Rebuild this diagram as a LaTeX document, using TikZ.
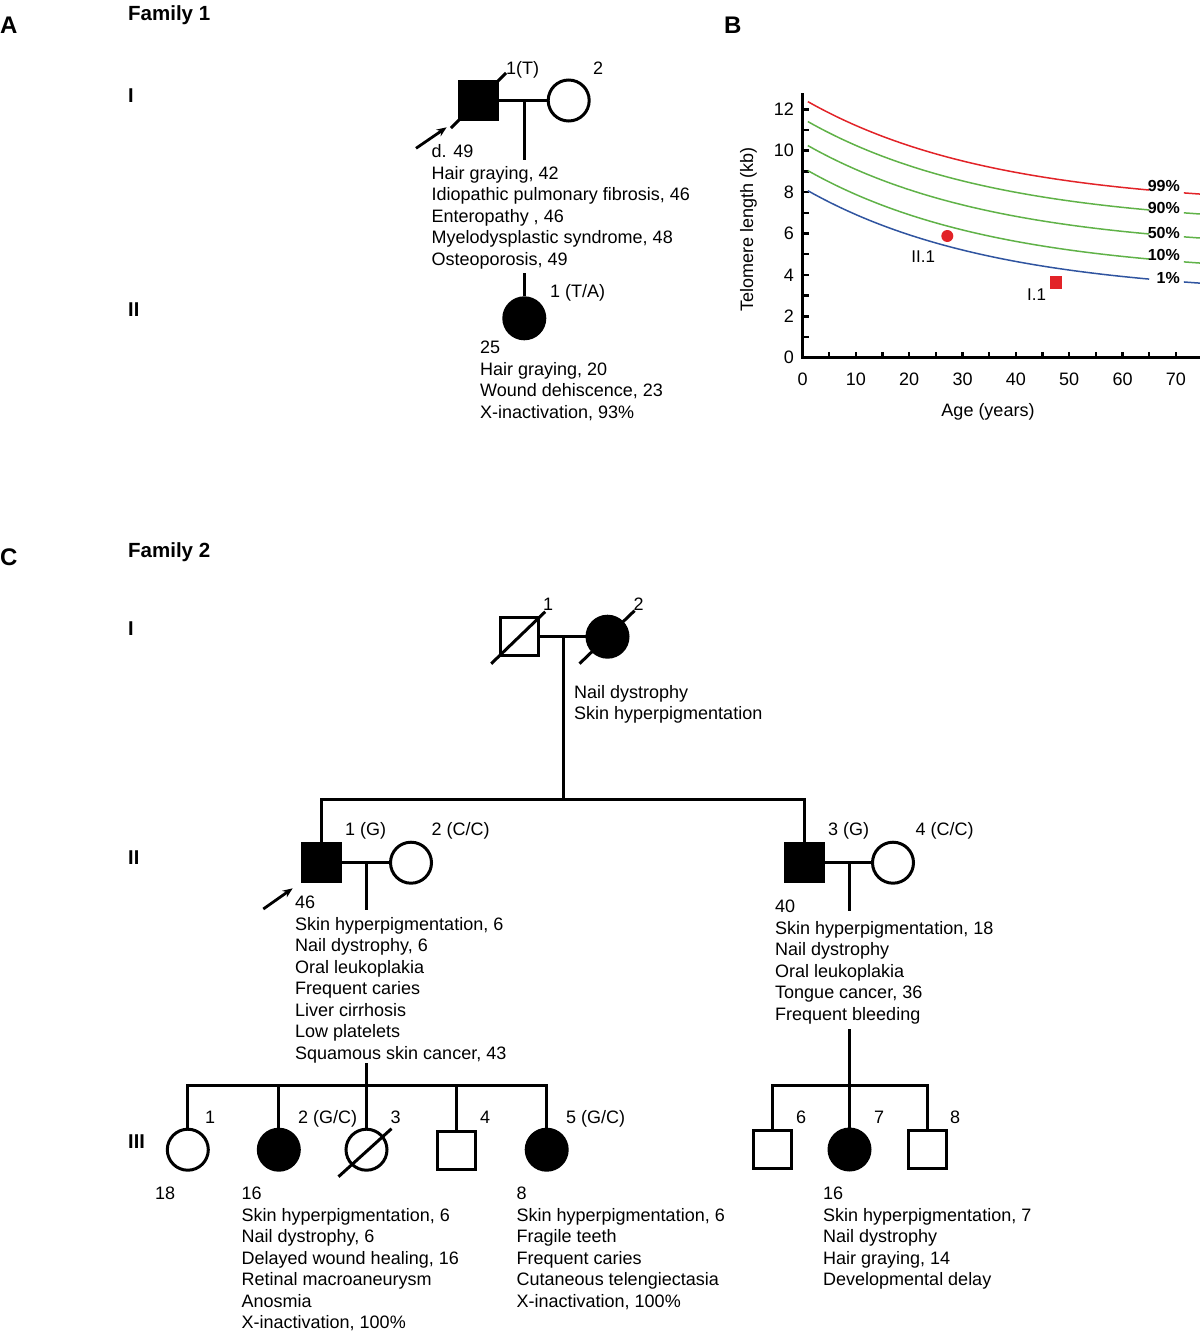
\documentclass[tikz,border=0pt]{standalone}
\usepackage{fontspec}
\setmainfont{Liberation Sans}
\usetikzlibrary{arrows.meta,positioning}

\definecolor{pred}{RGB}{226,35,40}
\definecolor{pgreen}{RGB}{96,178,72}
\definecolor{pblue}{RGB}{48,84,160}

\newcommand{\txtfont}{\fontsize{18}{21.5}\selectfont}
\newcommand{\genfont}{\fontsize{20}{22}\selectfont\bfseries}
\newcommand{\panelfont}{\fontsize{24}{26}\selectfont\bfseries}
\newcommand{\famfont}{\fontsize{20.5}{22}\selectfont\bfseries}
\newcommand{\pctfont}{\fontsize{16}{18}\selectfont\bfseries}

\begin{document}
\begin{tikzpicture}[x=1pt,y=-1pt,
    male/.style={rectangle,draw,line width=3pt,minimum size=38pt,inner sep=0pt},
    female/.style={circle,draw,line width=3pt,minimum size=41pt,inner sep=0pt},
    affected/.style={fill=black},
    rel/.style={line width=3pt},
    proband/.style={line width=2.8pt,-{Stealth[length=10pt,width=8pt]}},
    notes/.style={anchor=north west,inner sep=0pt,align=left,font=\txtfont},
    lab/.style={anchor=base west,inner sep=0pt,font=\txtfont},
    gen/.style={anchor=base west,inner sep=0pt,font=\genfont},
    panel/.style={anchor=base west,inner sep=0pt,font=\panelfont},
    fam/.style={anchor=base west,inner sep=0pt,font=\famfont},
    axis/.style={line width=2.5pt},
    curve/.style={line width=1.5pt},
    ticklab/.style={inner sep=0pt,font=\txtfont},
    pct/.style={anchor=east,inner sep=0pt,font=\pctfont}]
\useasboundingbox (0,0) rectangle (1203,1334);

% A: family 1
\node[panel] (labA) at (0,33) {A};
\node[fam] (fam1) at (128,20.7) {Family 1};
\node[gen] (genAI) at (128,102) {I};
\node[gen] (genAII) at (128,316) {II};

\node[male,affected] (a11) at (478.5,100.5) {};
\node[female] (a12) at (568.7,100.5) {};
\draw[rel] (a11) -- (a12);
\draw[rel] ([shift={(-27.5,27.5)}]a11.center) -- ([shift={(27.5,-27.5)}]a11.center);
\coordinate (a1m) at (524.3,100.5);
\coordinate (a1d) at (524.3,160);
\draw[rel] (a1m) -- (a1d);
\coordinate (a1arr) at (416,148.3);
\draw[proband] (a1arr) -- ++(30.7,-21);
\node[lab] (a11id) at (506,74) {1(T)};
\node[lab] (a12id) at (593,74) {2};
\node[notes] (a1txt) at (431.5,142.3) {\strut d. 49\\Hair graying, 42\\Idiopathic pulmonary fibrosis, 46\\Enteropathy , 46\\Myelodysplastic syndrome, 48\\Osteoporosis, 49};

\coordinate (a2top) at (524.3,273.3);
\node[female,affected] (a21) at (524.3,318.3) {};
\draw[rel] (a2top) -- (a21);
\node[lab] (a21id) at (550,297) {1 (T/A)};
\node[notes] (a2txt) at (480,338.3) {\strut 25\\Hair graying, 20\\Wound dehiscence, 23\\X-inactivation, 93\%};

% B: telomere length chart
\node[panel] (labB) at (724,33) {B};
\pgfmathsetmacro{\ox}{802.5}
\pgfmathsetmacro{\oy}{357.7}
\pgfmathsetmacro{\ux}{5.334}
\pgfmathsetmacro{\uy}{20.7}
\coordinate (ytop) at (\ox,93.3);
\coordinate (xend) at (1200,\oy);
\draw[axis] (ytop) |- (xend);
\foreach \k in {0,...,12}
  \draw[axis] (\ox,{\oy-\uy*\k}) -- ++(6,0);
\foreach \k in {0,2,...,12}
  \node[ticklab,anchor=east] (yl\k) at (794,{\oy-\uy*\k}) {\k};
\foreach \a in {5,10,...,70}
  \draw[axis] ({\ox+\ux*\a},\oy) -- ++(0,-6);
\foreach \a in {0,10,...,70}
  \node[ticklab,anchor=base] (xl\a) at ({\ox+\ux*\a},385.4) {\a};
\foreach \A/\col in {7.283/pred,6.32/pgreen,5.16/pgreen,3.95/pgreen,2.98/pblue} {
  \draw[curve,draw=\col] plot[domain=1:65,samples=60,smooth] ({\ox+\ux*\x},{\oy-\uy*(\A+5.235*exp(-\x/35))});
  \draw[curve,draw=\col] plot[domain=71.5:74.5,samples=5,smooth] ({\ox+\ux*\x},{\oy-\uy*(\A+5.235*exp(-\x/35))});
}
\foreach \p/\yy in {99/186,90/208.3,50/232.7,10/255,1/278.3}
  \node[pct] (p\p) at (1180,\yy) {\p\%};
\node[circle,fill=pred,minimum size=12pt,inner sep=0pt] (ptII1) at (947.3,236) {};
\node[rectangle,fill=pred,minimum size=12.7pt,inner sep=0pt] (ptI1) at (1056,282.3) {};
\node[ticklab,font=\fontsize{17}{19}\selectfont] (ptII1lab) at (923.3,256.7) {II.1};
\node[ticklab,font=\fontsize{17}{19}\selectfont] (ptI1lab) at (1036.5,295) {I.1};
\node[ticklab] (xtitle) at (988,411.7) {Age (years)};
\node[ticklab,rotate=90] (ytitle) at (748.5,229.5) {Telomere length (kb)};

% C: family 2
\node[panel] (labC) at (0,565) {C};
\node[fam] (fam2) at (128,557.3) {Family 2};
\node[gen] (genCI) at (128,635) {I};
\node[gen] (genCII) at (128,864.5) {II};
\node[gen] (genCIII) at (128,1148.5) {III};

\node[male] (b11) at (519.2,636.7) {};
\node[female,affected] (b12) at (607.5,636.7) {};
\draw[rel] (b11) -- (b12);
\draw[rel] ([shift={(-28,27)}]b11.center) -- ([shift={(26,-25)}]b11.center);
\draw[rel] ([shift={(-28,27)}]b12.center) -- ([shift={(27,-26)}]b12.center);
\node[lab] (b11id) at (543,610) {1};
\node[lab] (b12id) at (633.5,610) {2};
\coordinate (b1m) at (563.3,636.7);
\coordinate (b1s) at (563.3,799.5);
\draw[rel] (b1m) -- (b1s);
\node[notes] (b1txt) at (574,683) {\strut Nail dystrophy\\Skin hyperpigmentation};

\node[male,affected] (b21) at (321.2,862.7) {};
\node[female] (b22) at (411,862.7) {};
\node[male,affected] (b23) at (804.2,862.7) {};
\node[female] (b24) at (893,862.7) {};
\draw[rel] (b21.north) |- (b1s) -| (b23.north);
\draw[rel] (b21) -- (b22);
\draw[rel] (b23) -- (b24);
\node[lab] (b21id) at (345,835.5) {1 (G)};
\node[lab] (b22id) at (431.5,835.5) {2 (C/C)};
\node[lab] (b23id) at (828,835.5) {3 (G)};
\node[lab] (b24id) at (915.5,835.5) {4 (C/C)};
\coordinate (b2arr) at (263.3,909);
\draw[proband] (b2arr) -- ++(29.4,-20.7);

% II.1 and II.2 with children
\coordinate (b2m) at (366.5,862.7);
\coordinate (b2d) at (366.5,910);
\draw[rel] (b2m) -- (b2d);
\node[notes] (b2txt) at (295,893.5) {\strut 46\\Skin hyperpigmentation, 6\\Nail dystrophy, 6\\Oral leukoplakia\\Frequent caries\\Liver cirrhosis\\Low platelets\\Squamous skin cancer, 43};
\coordinate (b3top) at (366.5,1063);
\coordinate (b3s) at (366.5,1085.7);
\node[female] (b31) at (187.8,1149.7) {};
\node[female,affected] (b32) at (278.8,1149.7) {};
\node[female] (b33) at (366.5,1149.7) {};
\node[male] (b34) at (456.7,1150) {};
\node[female,affected] (b35) at (546.7,1149.7) {};
\draw[rel] (b3top) -- (b33);
\draw[rel] (b31.north) |- (b3s) -| (b35.north);
\draw[rel] (b32.north) -- (b32.north |- b3s);
\draw[rel] (b34.north) -- (b34.north |- b3s);
\draw[rel] ([shift={(-28,27)}]b33.center) -- ([shift={(25,-21)}]b33.center);
\node[lab] (b31id) at (205,1123.3) {1};
\node[lab] (b32id) at (298,1123.3) {2 (G/C)};
\node[lab] (b33id) at (390.5,1123.3) {3};
\node[lab] (b34id) at (480,1123.3) {4};
\node[lab] (b35id) at (566,1123.3) {5 (G/C)};
\node[lab] (b31age) at (155,1199.3) {18};
\node[notes] (b32txt) at (241.5,1184.3) {\strut 16\\Skin hyperpigmentation, 6\\Nail dystrophy, 6\\Delayed wound healing, 16\\Retinal macroaneurysm\\Anosmia\\X-inactivation, 100\%};
\node[notes] (b35txt) at (516.5,1184.3) {\strut 8\\Skin hyperpigmentation, 6\\Fragile teeth\\Frequent caries\\Cutaneous telengiectasia\\X-inactivation, 100\%};

% II.3 and II.4 with children
\coordinate (b4m) at (849.5,862.7);
\coordinate (b4d) at (849.5,911);
\draw[rel] (b4m) -- (b4d);
\node[notes] (b4txt) at (775,897.3) {\strut 40\\Skin hyperpigmentation, 18\\Nail dystrophy\\Oral leukoplakia\\Tongue cancer, 36\\Frequent bleeding};
\coordinate (b5top) at (849.5,1029.3);
\coordinate (b5s) at (849.5,1085.7);
\node[male] (b36) at (772.3,1149.5) {};
\node[female,affected] (b37) at (849.5,1149.5) {};
\node[male] (b38) at (927,1149.5) {};
\draw[rel] (b5top) -- (b37);
\draw[rel] (b36.north) |- (b5s) -| (b38.north);
\node[lab] (b36id) at (796,1123) {6};
\node[lab] (b37id) at (874,1123) {7};
\node[lab] (b38id) at (950,1123) {8};
\node[notes] (b37txt) at (823,1184.3) {\strut 16\\Skin hyperpigmentation, 7\\Nail dystrophy\\Hair graying, 14\\Developmental delay};
\end{tikzpicture}
\end{document}
